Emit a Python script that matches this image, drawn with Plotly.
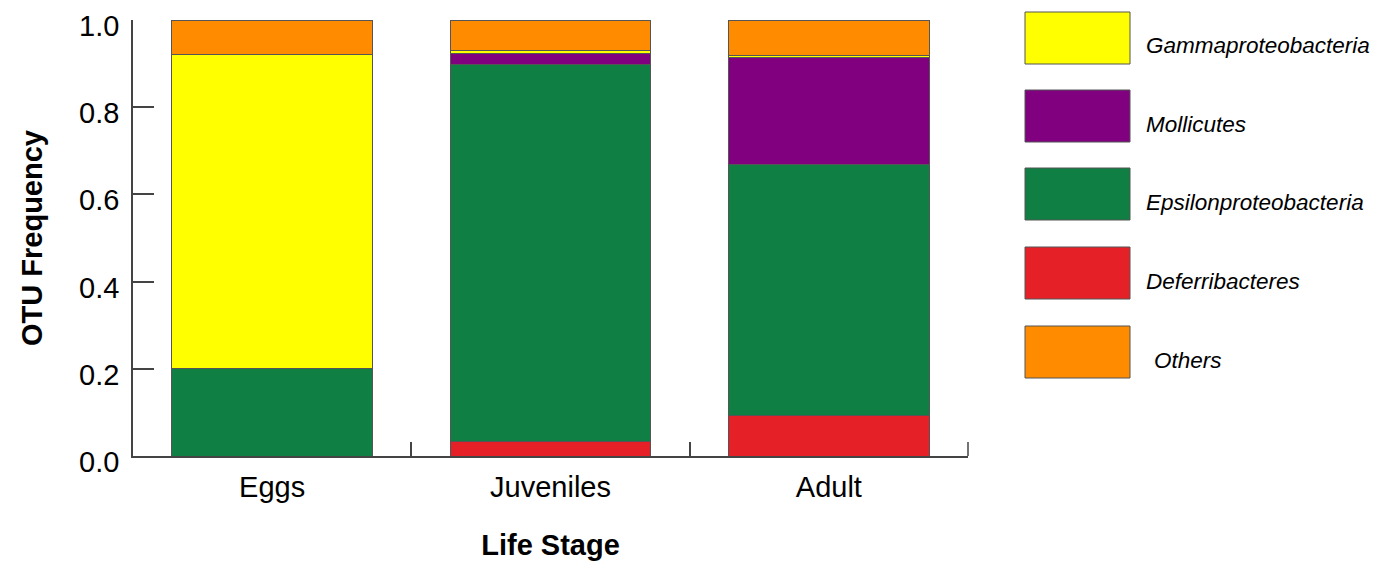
import plotly.graph_objects as go

stages = ["Eggs", "Juveniles", "Adult"]
deferribacteres = [0.0, 0.033, 0.092]
epsilonproteobacteria = [0.200, 0.864, 0.577]
mollicutes = [0.0, 0.026, 0.244]
gammaproteobacteria = [0.722, 0.007, 0.006]
others = [0.078, 0.070, 0.081]
y_ticks = [0.0, 0.2, 0.4, 0.6, 0.8, 1.0]

series = [
    ("Deferribacteres", deferribacteres, "#E52127"),
    ("Epsilonproteobacteria", epsilonproteobacteria, "#0F7F43"),
    ("Mollicutes", mollicutes, "#800080"),
    ("Gammaproteobacteria", gammaproteobacteria, "#FFFF00"),
    ("Others", others, "#FF8C00"),
]

OFF = 8  # page offset of the figure div
W, H = 1398 - OFF, 561 - OFF
L, T = 133 - OFF, 20 - OFF
pw, ph = 835, 436
R, B = W - L - pw, H - T - ph

def px_x(x):
    return (x - OFF - L) / pw

def px_y(y):
    return (T + ph - (y - OFF)) / ph

fig = go.Figure()
for name, vals, col in series:
    fig.add_trace(go.Bar(
        x=stages, y=vals, name=name, width=0.72,
        marker=dict(color=col, line=dict(color="#555555", width=1)),
        showlegend=False,
    ))

# right-end boundary tick on x axis
fig.add_shape(type="line", xref="paper", yref="paper", x0=1, x1=1, y0=0, y1=14 / ph,
              line=dict(color="#444444", width=1.5))

# y tick labels (slightly below their ticks, as in the reference)
for v in y_ticks:
    fig.add_annotation(xref="paper", yref="y", x=px_x(121), y=v, yshift=-6,
                       text=f"{v:.1f}", showarrow=False, xanchor="right", yanchor="middle",
                       font=dict(family="Liberation Sans, Arial", size=29, color="black"))

# Manual legend (large swatches)
legend_items = [
    ("Gammaproteobacteria", "#FFFF00", 12, 64, 1144),
    ("Mollicutes", "#800080", 90, 142, 1144),
    ("Epsilonproteobacteria", "#0F7F43", 168, 220, 1144),
    ("Deferribacteres", "#E52127", 247, 299, 1144),
    ("Others", "#FF8C00", 326, 378, 1152),
]
for name, col, y0, y1, tx in legend_items:
    fig.add_shape(type="rect", xref="paper", yref="paper",
                  x0=px_x(1025), x1=px_x(1130), y0=px_y(y1), y1=px_y(y0),
                  fillcolor=col, line=dict(color="#555555", width=1))
    fig.add_annotation(xref="paper", yref="paper", x=px_x(tx), y=px_y((y0 + y1) / 2 + 8),
                       text=f"<i>{name}</i>", showarrow=False, xanchor="left", yanchor="middle",
                       font=dict(family="Liberation Sans, Arial", size=22.5, color="black"))

fig.update_layout(
    width=W, height=H,
    barmode="stack",
    plot_bgcolor="white", paper_bgcolor="white",
    margin=dict(l=L, r=R, t=T, b=B, autoexpand=False),
    font=dict(family="Liberation Sans, Arial", color="black"),
    xaxis=dict(
        type="category", range=[-0.5, 2.5],
        showline=True, linecolor="#444444", linewidth=1.5,
        ticks="inside", tickson="boundaries", ticklen=14, tickcolor="#444444", tickwidth=1.5,
        tickfont=dict(size=29), showgrid=False, ticklabelstandoff=4,
        title=dict(text="<b>Life Stage</b>", font=dict(size=29), standoff=36),
    ),
    yaxis=dict(
        range=[0, 1], tickvals=y_ticks, showticklabels=False,
        showline=True, linecolor="#444444", linewidth=1.5,
        ticks="inside", ticklen=21, tickcolor="#444444", tickwidth=1.5,
        showgrid=False, zeroline=False,
        title=dict(text="<b>OTU Frequency</b>", font=dict(size=29), standoff=80),
    ),
)

fig.write_html("out.html")
